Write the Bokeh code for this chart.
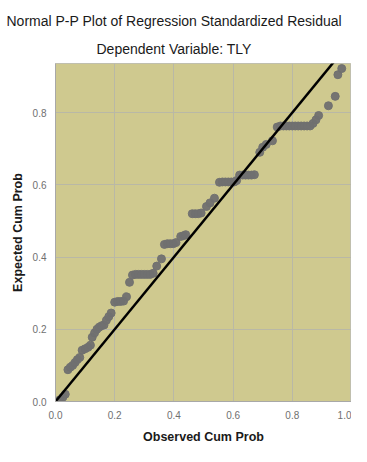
from bokeh.plotting import figure
from bokeh.models import Range1d, Title, FixedTicker, ColumnDataSource, NumeralTickFormatter
from bokeh.embed import file_html
from bokeh.resources import INLINE

observed = [0.015, 0.025, 0.033,
            0.042, 0.050, 0.058, 0.066, 0.074, 0.082,
            0.090, 0.100, 0.110, 0.118,
            0.124, 0.132, 0.140, 0.148, 0.156, 0.164,
            0.172, 0.180, 0.188,
            0.200, 0.210, 0.220, 0.230, 0.240,
            0.250,
            0.260, 0.270, 0.280, 0.290, 0.300, 0.310, 0.320, 0.330,
            0.342, 0.358,
            0.368, 0.378, 0.388, 0.398, 0.407,
            0.423, 0.432, 0.440,
            0.462, 0.472, 0.482, 0.492,
            0.510, 0.522, 0.537,
            0.554, 0.564, 0.574, 0.584, 0.594, 0.604, 0.612,
            0.622, 0.632, 0.642, 0.652, 0.662, 0.672,
            0.690, 0.700, 0.712, 0.733,
            0.749, 0.760, 0.770, 0.780, 0.790, 0.800, 0.810, 0.820, 0.830, 0.840, 0.850, 0.860, 0.870,
            0.880, 0.889, 0.922, 0.945, 0.954, 0.967]
expected = [0.005, 0.012, 0.020,
            0.088, 0.095, 0.100, 0.108, 0.116, 0.122,
            0.142, 0.146, 0.150, 0.156,
            0.178, 0.190, 0.200, 0.206, 0.210, 0.212,
            0.225, 0.235, 0.245,
            0.275, 0.277, 0.277, 0.278, 0.290,
            0.330,
            0.350, 0.352, 0.352, 0.352, 0.352, 0.352, 0.352, 0.355,
            0.375, 0.395,
            0.435, 0.437, 0.437, 0.437, 0.440,
            0.457, 0.459, 0.462,
            0.520, 0.520, 0.520, 0.522,
            0.540, 0.550, 0.563,
            0.607, 0.608, 0.608, 0.608, 0.608, 0.608, 0.612,
            0.627, 0.627, 0.627, 0.627, 0.627, 0.628,
            0.690, 0.704, 0.712, 0.722,
            0.760, 0.763, 0.763, 0.763, 0.763, 0.763, 0.763, 0.763, 0.763, 0.763, 0.763, 0.763, 0.770,
            0.780, 0.792, 0.819, 0.845, 0.905, 0.922]
ref_line = [0.0, 1.0]
x_ticks = [0.0, 0.2, 0.4, 0.6, 0.8, 1.0]
y_ticks = [0.0, 0.2, 0.4, 0.6, 0.8]

FONT = "Liberation Sans"

p = figure(width=351, height=446, output_backend="svg", toolbar_location=None,
           x_range=Range1d(0, 1.0), y_range=Range1d(0, 0.936),
           min_border_left=55, min_border_right=0, min_border_bottom=38, min_border_top=63)

p.title.text = "Normal P-P Plot of Regression Standardized Residual"
p.title.text_font = FONT
p.title.text_font_size = "14px"
p.title.text_font_style = "normal"
p.title.text_color = "#1a1a1a"
p.title.align = "left"
p.title.offset = -49
p.title.standoff = 8

sub = Title(text="Dependent Variable: TLY", align="left", text_font=FONT,
            text_font_size="14px", text_font_style="normal", text_color="#1a1a1a",
            standoff=13, offset=41)
p.add_layout(sub, "above")

p.background_fill_color = "#cfc98f"
p.border_fill_color = "white"
p.outline_line_color = "#c0bfae"

p.xgrid.ticker = FixedTicker(ticks=x_ticks)
p.ygrid.ticker = FixedTicker(ticks=y_ticks)
p.grid.grid_line_color = "#b9b8a6"
p.grid.grid_line_width = 1

for ax, ticks in ((p.xaxis, x_ticks), (p.yaxis, y_ticks)):
    ax.ticker = FixedTicker(ticks=ticks)
    ax.formatter = NumeralTickFormatter(format="0.0")
    ax.major_tick_line_color = None
    ax.minor_tick_line_color = None
    ax.axis_line_color = "#a8a8a8"
    ax.major_label_text_font = FONT
    ax.major_label_text_font_size = "10px"
    ax.major_label_text_color = "#707070"
    ax.axis_label_text_font = FONT
    ax.axis_label_text_font_size = "12.5px"
    ax.axis_label_text_font_style = "bold"
    ax.axis_label_text_color = "#1a1a1a"

p.xaxis.axis_label = "Observed Cum Prob"
p.yaxis.axis_label = "Expected Cum Prob"
p.xaxis.major_label_standoff = 3
p.yaxis.major_label_standoff = 3
p.xaxis.axis_label_standoff = 8
p.yaxis.axis_label_standoff = 5

src = ColumnDataSource(data=dict(x=observed, y=expected))
p.scatter("x", "y", source=src, size=8, fill_color="#707070", line_color="#707070", alpha=0.95)
p.line(ref_line, ref_line, line_color="black", line_width=2.5)

open("out.html", "w").write(file_html(p, INLINE))
